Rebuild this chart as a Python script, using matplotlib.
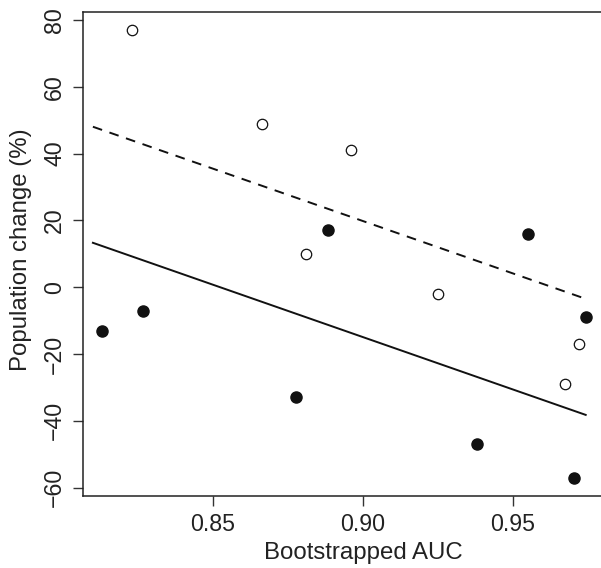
import matplotlib.pyplot as plt
import numpy as np

plt.rcParams['font.family'] = ['Liberation Sans', 'DejaVu Sans']

# open circles
auc_open = [0.8231, 0.8664, 0.896, 0.881, 0.925, 0.972, 0.9673]
pop_open = [77, 49, 41, 10, -2, -17, -29]
# filled circles
auc_fill = [0.813, 0.8266, 0.8777, 0.8884, 0.9549, 0.938, 0.9703, 0.9742]
pop_fill = [-13, -7, -33, 17, 16, -47, -57, -9]

xticks = [0.85, 0.90, 0.95]
xticklabels = ['0.85', '0.90', '0.95']
yticks = [-60, -40, -20, 0, 20, 40, 60, 80]
yticklabels = ['\u221260', '\u221240', '\u221220', '0', '20', '40', '60', '80']

W, H = 601, 568
fig = plt.figure(figsize=(W/100, H/100), dpi=100)
ax = fig.add_axes([83/W, 1-496/H, 1-83/W, (496-12)/H])

# common-slope fit (group intercepts), drawn over full x range
xo, yo = np.array(auc_open), np.array(pop_open)
xf, yf = np.array(auc_fill), np.array(pop_fill)
sxy = ((xo-xo.mean())*(yo-yo.mean())).sum() + ((xf-xf.mean())*(yf-yf.mean())).sum()
sxx = ((xo-xo.mean())**2).sum() + ((xf-xf.mean())**2).sum()
slope = sxy/sxx
allx = np.concatenate([xo, xf])
xs = np.array([allx.min() - 0.003, allx.max()])
ax.plot(xs, yf.mean() + slope*(xs-xf.mean()), color='#111111', lw=1.4)
ax.plot(xs, yo.mean() + slope*(xs-xo.mean()), color='#111111', lw=1.4, ls=(0, (5, 4)))

ax.plot(auc_open, pop_open, 'o', ms=7.5, mfc='white', mec='#111111', mew=0.9)
ax.plot(auc_fill, pop_fill, 'o', ms=8, mfc='#111111', mec='#111111')

ax.set_xlim(0.8067, 0.9793)
ax.set_ylim(-62.5, 82.4)
ax.set_xticks(xticks)
ax.set_xticklabels(xticklabels)
ax.set_yticks(yticks)
ax.set_yticklabels(yticklabels, rotation=90, va='center')
ax.tick_params(direction='out', length=7, width=1, color='#333333',
               labelcolor='#222222', labelsize=16.7, pad=5)
for s in ['left', 'bottom', 'top']:
    ax.spines[s].set_color('#222222')
    ax.spines[s].set_linewidth(1.1)
ax.spines['right'].set_visible(False)

fig.text(363/W, 1-553/H, 'Bootstrapped AUC', ha='center', va='center',
         fontsize=17.3, color='#222222')
fig.text(21/W, 1-250/H, 'Population change (%)', ha='center', va='center',
         rotation=90, fontsize=17.3, color='#222222')

fig.savefig('out.png', dpi=100)
